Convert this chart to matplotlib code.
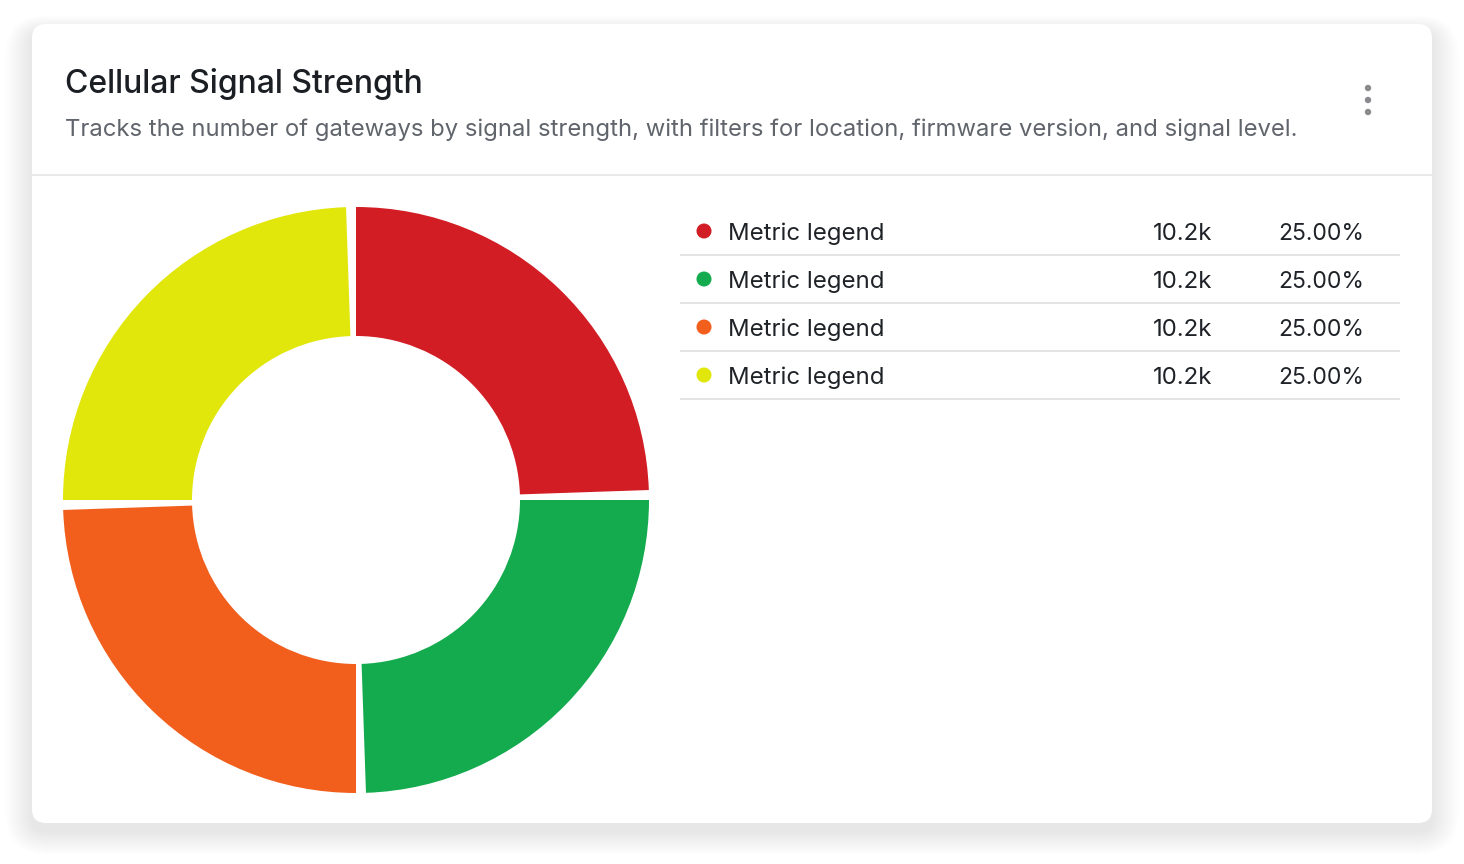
import matplotlib
matplotlib.use("Agg")
import matplotlib.pyplot as plt
from matplotlib.patches import FancyBboxPatch, Circle

# ---- data ----
labels = ["Metric legend", "Metric legend", "Metric legend", "Metric legend"]
values = [10200, 10200, 10200, 10200]
colors = ["#D21D24", "#13AB4E", "#F25F1D", "#E1E60B"]
title = "Cellular Signal Strength"
subtitle = ("Tracks the number of gateways by signal strength, with filters for "
            "location, firmware version, and signal level.")

W, H = 1464, 864
DPI = 100
PX = 72.0 / DPI  # points per pixel

plt.rcParams['font.family'] = ['Inter', 'DejaVu Sans']

fig = plt.figure(figsize=(W / DPI, H / DPI), dpi=DPI)
fig.patch.set_facecolor("white")

bg = fig.add_axes([0, 0, 1, 1])
bg.set_xlim(0, W)
bg.set_ylim(H, 0)
bg.axis("off")

# card shadow (soft)
cx0, cy0, cx1, cy1 = 32, 24, 1432, 823
for i in range(24, 0, -1):
    s = i * 1.4
    bg.add_patch(FancyBboxPatch((cx0 - s * 0.8, cy0 - s * 0.5 + 8), (cx1 - cx0) + s * 1.6,
                                (cy1 - cy0) + s * 1.2,
                                boxstyle=f"round,pad=0,rounding_size={14 + s * 0.8}",
                                facecolor="black", edgecolor="none", alpha=0.0027, zorder=1))
# card
bg.add_patch(FancyBboxPatch((cx0, cy0), cx1 - cx0, cy1 - cy0,
                            boxstyle="round,pad=0,rounding_size=14",
                            facecolor="white", edgecolor="none", zorder=2))
# header separator
bg.plot([cx0, cx1], [175, 175], color="#E4E4E7", lw=1.6 * PX, zorder=3,
        solid_capstyle="butt")

bg.text(65, 93, title, fontsize=32 * PX, fontweight="medium", color="#1B1F24",
        ha="left", va="baseline", zorder=4)
bg.text(65, 136, subtitle, fontsize=23.85 * PX, color="#60646B", ha="left",
        va="baseline", zorder=4)

# kebab menu
for yy in (88, 100, 112):
    bg.add_patch(Circle((1368, yy), 3.2, facecolor="#8A8A8E", edgecolor="none", zorder=4))

# legend table
total = sum(values)
row_h = 48
row0 = 231
for i, (lab, v, c) in enumerate(zip(labels, values, colors)):
    yc = row0 + i * row_h
    bg.add_patch(Circle((704, yc), 7.5, facecolor=c, edgecolor="none", zorder=4))
    bg.text(728, yc + 2.5, lab, fontsize=24 * PX, color="#1F2328", ha="left",
            va="center", zorder=4)
    bg.text(1212, yc + 2.5, f"{v / 1000:.1f}k", fontsize=24 * PX, color="#1F2328",
            ha="right", va="center", zorder=4)
    bg.text(1364, yc + 2.5, f"{v / total * 100:.2f}%", fontsize=23 * PX,
            color="#1F2328", ha="right", va="center", zorder=4)
    bg.plot([680, 1400], [yc + 23.5, yc + 23.5], color="#E4E4E7", lw=2 * PX,
            zorder=3, solid_capstyle="butt")

# donut
pcx, pcy, R = 356, 500, 293
ax = fig.add_axes([(pcx - R) / W, (H - pcy - R) / H, 2 * R / W, 2 * R / H])
ax.set_zorder(5)
ax.patch.set_alpha(0)
wedges, _ = ax.pie(values, colors=colors, startangle=90, counterclock=False,
                   radius=1, wedgeprops=dict(width=1 - 164 / 293, edgecolor="none",
                                             linewidth=0))
pad = 1.95
for w in wedges:
    w.set_theta1(w.theta1 + pad)
ax.set_xlim(-1, 1)
ax.set_ylim(-1, 1)
ax.set_aspect("equal")
ax.axis("off")

fig.savefig("out.png", dpi=DPI, facecolor="white")
